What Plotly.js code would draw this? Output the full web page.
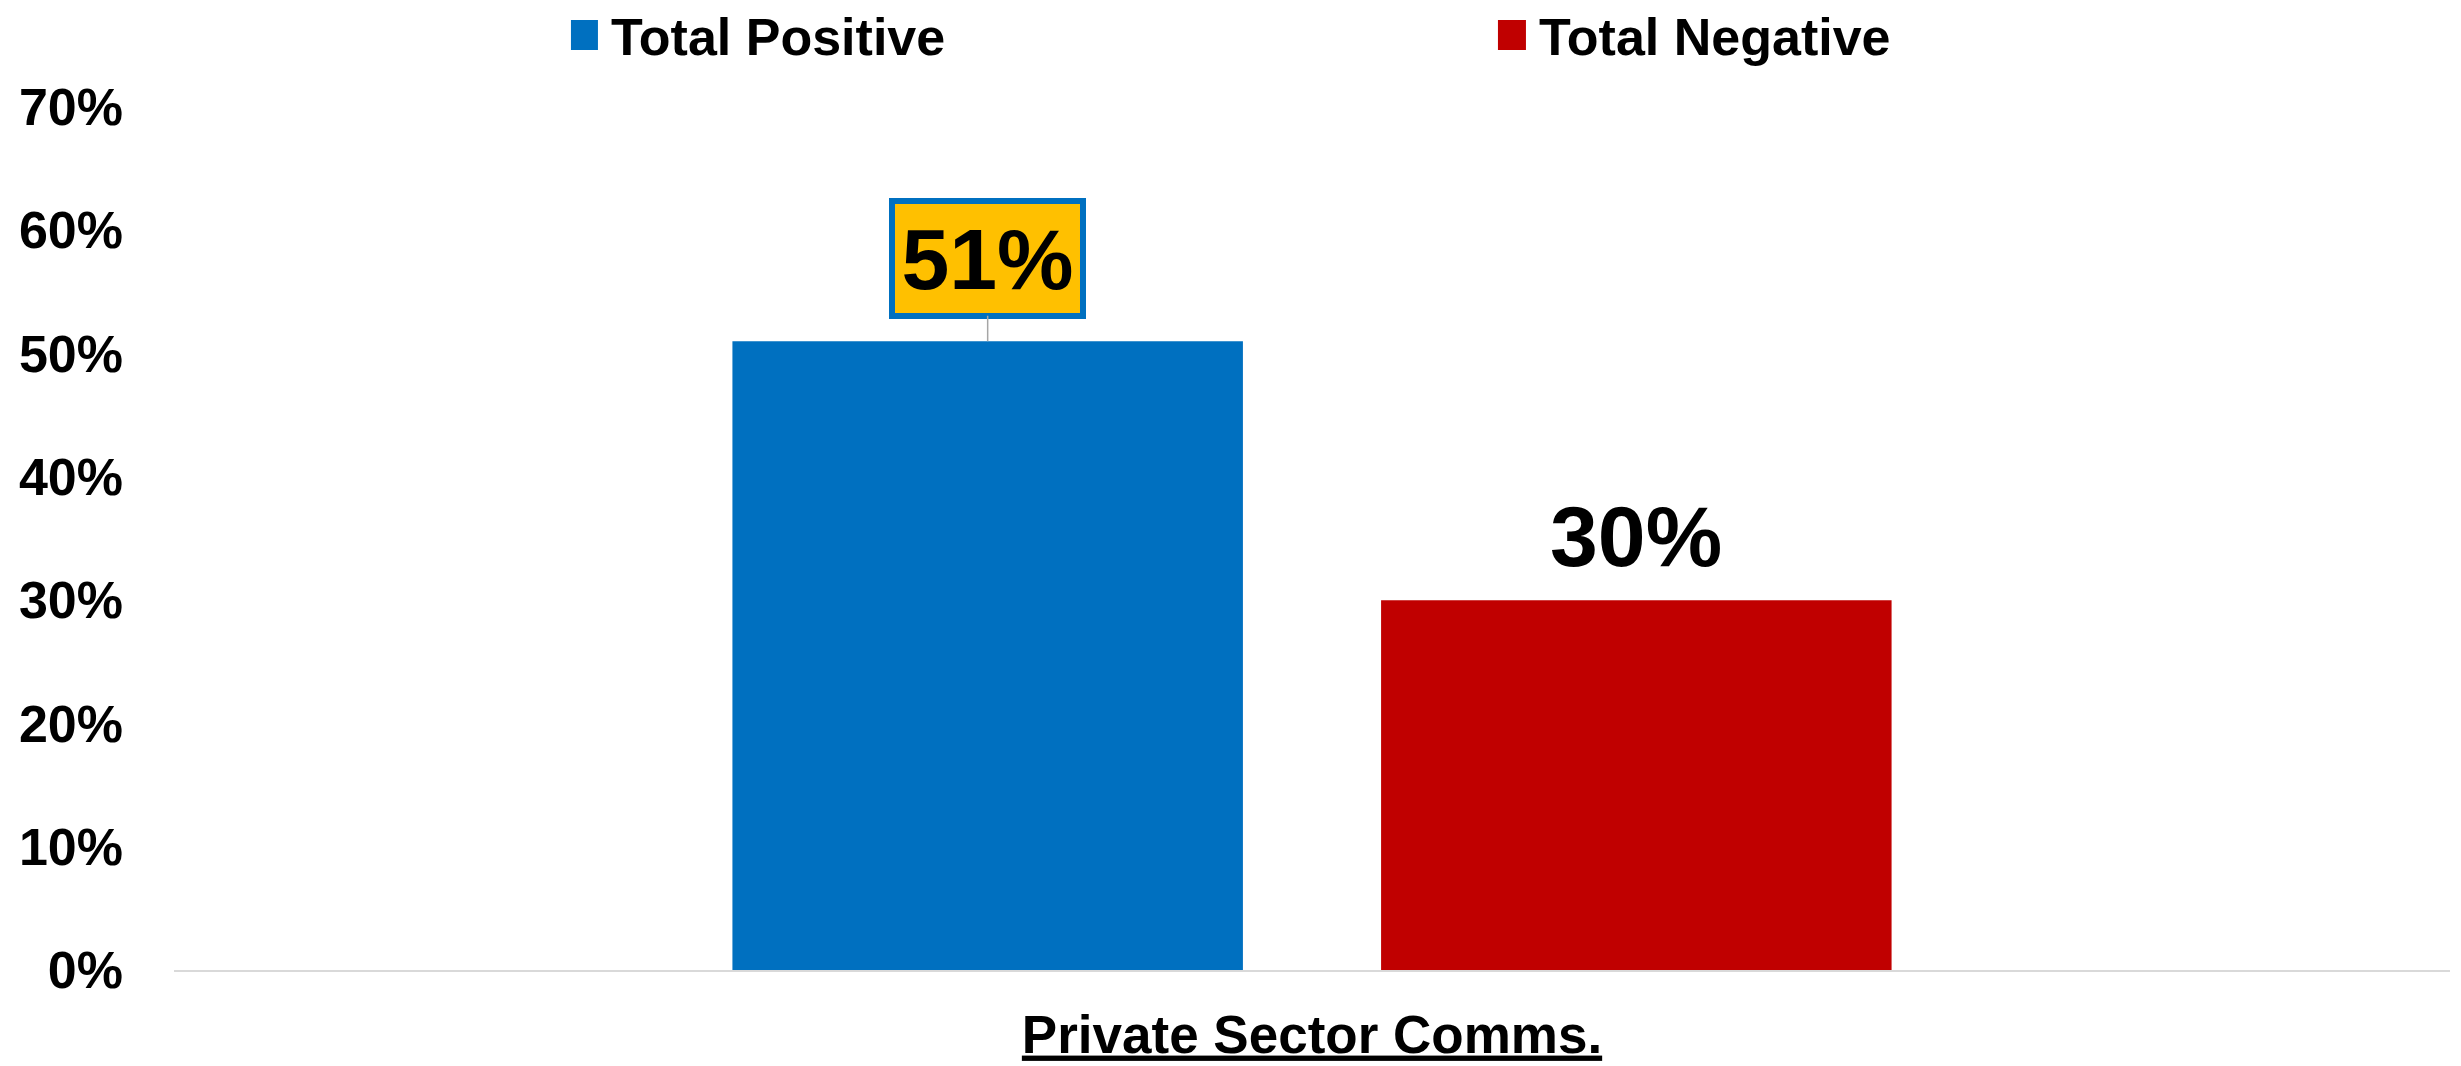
<!DOCTYPE html>
<html>
<head>
<meta charset="utf-8">
<script src="https://cdn.plot.ly/plotly-3.0.1.min.js"></script>
<style>
  html, body { margin: 0; padding: 0; background: #ffffff; }
  #chart { width: 2461px; height: 1066px; }
</style>
</head>
<body>
<div id="chart"></div>
<script>
// ---- data ----
const categories = ['Private Sector Comms.'];
const seriesNames = ['Total Positive', 'Total Negative'];
const positiveValues = [0.51];
const negativeValues = [0.30];
const yTickValues = [0, 0.1, 0.2, 0.3, 0.4, 0.5, 0.6, 0.7];
const yTickLabels = ['0%', '10%', '20%', '30%', '40%', '50%', '60%', '70%'];

// ---- styling ----
const FONT = 'Liberation Sans, Arial, sans-serif';
const BLUE = '#0070C0';
const RED = '#C00000';
const BARGAP = 0.43;
const BARGROUPGAP = 0.213;
const pct = v => Math.round(v * 100) + '%';

const traces = [
  { type: 'bar', name: seriesNames[0], x: categories, y: positiveValues,
    marker: { color: BLUE }, hoverinfo: 'skip' },
  { type: 'bar', name: seriesNames[1], x: categories, y: negativeValues,
    marker: { color: RED }, hoverinfo: 'skip' }
];

// centre offsets of the two grouped bars, in category-axis units
const slot = (1 - BARGAP) / 2;
const posX = -slot / 2;
const negX = slot / 2;

const layout = {
  width: 2461, height: 1066,
  paper_bgcolor: '#ffffff', plot_bgcolor: '#ffffff',
  margin: { l: 174, r: 11, t: 107, b: 96, autoexpand: false },
  barmode: 'group', bargap: BARGAP, bargroupgap: BARGROUPGAP,
  font: { family: FONT, color: '#000000', weight: 'bold' },
  showlegend: true,
  legend: {
    orientation: 'h', xref: 'container', yref: 'container',
    x: 0.232, xanchor: 'left', y: 0.967, yanchor: 'middle',
    font: { family: FONT, size: 52, color: '#000000', weight: 'bold' },
    entrywidth: 883, entrywidthmode: 'pixels',
    bgcolor: 'rgba(0,0,0,0)', itemclick: false, itemdoubleclick: false
  },
  xaxis: {
    type: 'category', showgrid: false, zeroline: false,
    showline: true, linecolor: '#D9D9D9', linewidth: 2,
    ticks: '', ticklabelstandoff: 17,
    tickfont: { family: FONT, size: 53, color: '#000000', weight: 'bold', lineposition: 'under' },
    fixedrange: true
  },
  yaxis: {
    range: [0, 0.7], tickvals: yTickValues, ticktext: yTickLabels,
    showgrid: false, zeroline: false, showline: false, ticks: '',
    ticklabelstandoff: 50,
    tickfont: { family: FONT, size: 52, color: '#000000', weight: 'bold' },
    fixedrange: true
  },
  annotations: [
    { x: posX, y: positiveValues[0], xref: 'x', yref: 'y',
      text: pct(positiveValues[0]),
      showarrow: true, arrowhead: 0, arrowwidth: 1.5, arrowcolor: '#A6A6A6',
      ax: 0, ay: -83, standoff: 0,
      bgcolor: '#FFC000', bordercolor: BLUE, borderwidth: 6, borderpad: 0,
      width: 185, height: 109, valign: 'middle', align: 'center',
      font: { family: FONT, size: 86, color: '#000000', weight: 'bold' } },
    { x: negX, y: negativeValues[0], xref: 'x', yref: 'y',
      text: pct(negativeValues[0]),
      showarrow: false, yanchor: 'bottom', yshift: 14,
      font: { family: FONT, size: 86, color: '#000000', weight: 'bold' } }
  ]
};

Plotly.newPlot('chart', traces, layout, { displayModeBar: false, staticPlot: true }).then(gd => {
  // enlarge the legend swatches (keep Plotly's own translate) to match the reference squares
  document.querySelectorAll('.legend .legendpoints path').forEach(p => {
    p.setAttribute('d', 'M7,15H-21V-15H7Z');
  });
});
</script>
</body>
</html>
